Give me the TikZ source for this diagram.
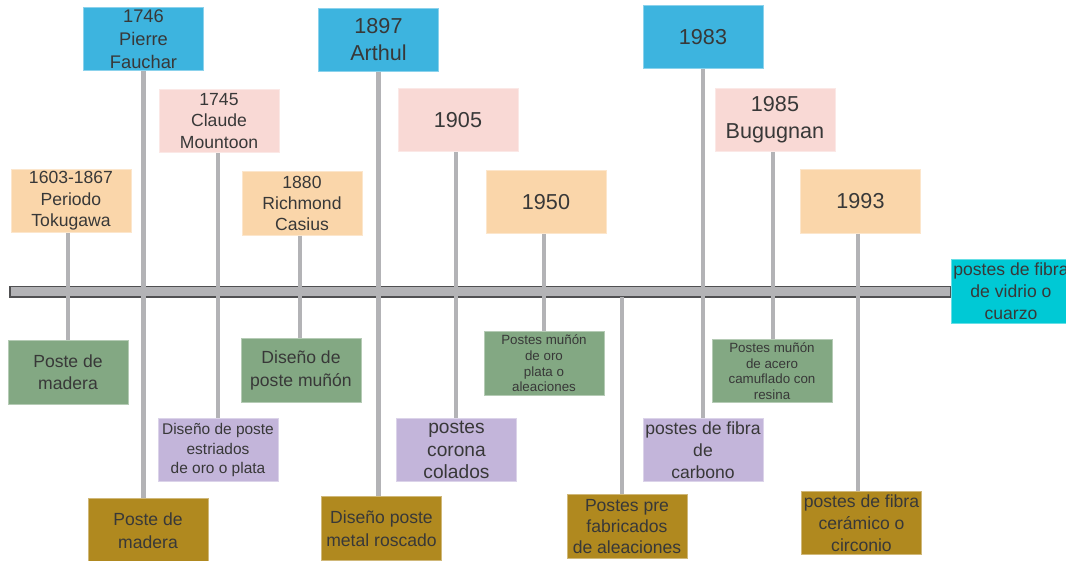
\documentclass[tikz,border=0pt]{standalone}
\usepackage{fontspec}
\setmainfont{Liberation Sans}
\usepackage{xcolor}
\usepackage{tikz}
\usetikzlibrary{positioning}

\definecolor{tlblue}{HTML}{3DB4DF}
\definecolor{tlpink}{HTML}{F9D9D5}
\definecolor{tlorange}{HTML}{FAD6AA}
\definecolor{tlgreen}{HTML}{83A883}
\definecolor{tlpurple}{HTML}{C3B5DA}
\definecolor{tlgold}{HTML}{B0891F}
\definecolor{tlcyan}{HTML}{00C9D5}
\definecolor{tlstem}{HTML}{B3B3B6}
\definecolor{tlrim}{HTML}{505052}
\definecolor{tltext}{HTML}{383838}

\newcommand{\ftop}{\fontsize{10}{12.2}\selectfont}
\newcommand{\fbig}{\fontsize{12.3}{15.3}\selectfont}
\newcommand{\fpost}{\fontsize{10}{12.6}\selectfont}
\newcommand{\fsmall}{\fontsize{7.6}{8.9}\selectfont}

\begin{document}
\begin{tikzpicture}[x=0.02cm, y=-0.02cm,
  box/.style={rectangle, minimum width=2.4cm, minimum height=1.27cm,
    inner sep=1pt, align=center, text=tltext, font=\fpost},
  stem/.style={draw=tlstem, line width=2.4pt}]
  \useasboundingbox (0,0) rectangle (1066,561);
  \clip (0,0) rectangle (1066,561);

  % timeline bar
  \draw[draw=tlrim, fill=tlstem, line width=0.8pt] (10,286.5) rectangle (951,297);
  \node[box, fill=tlcyan, draw=tlcyan!60!white] (vidrio) at (1011,291.5)
    {\fontsize{10}{11.8}\selectfont postes de fibra\\de vidrio o\\cuarzo};

  % years above the bar
  \node[box, fill=tlorange, draw=tlorange!60!white, font=\ftop] (t1603) at (71,201) {1603-1867\\Periodo\\Tokugawa};
  \node[box, fill=tlblue, draw=tlblue!60!white, font=\fontsize{10.4}{13}\selectfont] (t1746) at (143.5,39) {1746\\Pierre\\Fauchar};
  \node[box, fill=tlpink, draw=tlpink!60!white, font=\ftop] (t1745) at (219,121) {1745\\Claude\\Mountoon};
  \node[box, fill=tlorange, draw=tlorange!60!white, font=\ftop] (t1880) at (302,203.5) {1880\\Richmond\\Casius};
  \node[box, fill=tlblue, draw=tlblue!60!white, font=\fbig] (t1897) at (378.5,40) {1897\\Arthul};
  \node[box, fill=tlpink, draw=tlpink!60!white, font=\fbig] (t1905) at (458,120) {1905};
  \node[box, fill=tlorange, draw=tlorange!60!white, font=\fbig] (t1950) at (546,202) {1950};
  \node[box, fill=tlblue, draw=tlblue!60!white, font=\fbig] (t1983) at (703,37) {1983};
  \node[box, fill=tlpink, draw=tlpink!60!white, font=\fbig] (t1985) at (775,120) {1985\\Bugugnan};
  \node[box, fill=tlorange, draw=tlorange!60!white, font=\fbig] (t1993) at (860.5,201.5) {1993};

  % posts below the bar
  \node[box, fill=tlgreen, draw=tlgreen!60!white] (b1603) at (68,372.5) {Poste de\\madera};
  \node[box, fill=tlgold, draw=tlgold!60!white, font=\fontsize{10}{12.9}\selectfont] (b1746) at (148,530.5) {Poste de\\madera};
  \node[box, fill=tlpurple, draw=tlpurple!60!white, font=\fontsize{8.8}{11.3}\selectfont] (b1745) at (218,450) {Diseño de poste\\estriados\\de oro o plata};
  \node[box, fill=tlgreen, draw=tlgreen!60!white] (b1880) at (301,370.5) {Diseño de\\poste muñón};
  \node[box, fill=tlgold, draw=tlgold!60!white, font=\fontsize{10}{12.9}\selectfont] (b1897) at (381.5,528.5) {Diseño poste\\metal roscado};
  \node[box, fill=tlpurple, draw=tlpurple!60!white, font=\fontsize{10.9}{13}\selectfont] (b1905) at (456.5,450) {postes\\corona\\colados};
  \node[box, fill=tlgreen, draw=tlgreen!60!white, font=\fsmall] (b1950) at (544,363.5) {Postes muñón\\de oro\\plata o\\aleaciones};
  \node[box, fill=tlgold, draw=tlgold!60!white, font=\fontsize{10}{12}\selectfont] (bpre) at (627,526.5) {Postes pre\\fabricados\\de aleaciones};
  \node[box, fill=tlpurple, draw=tlpurple!60!white] (b1983) at (703,450) {postes de fibra\\de\\carbono};
  \node[box, fill=tlgreen, draw=tlgreen!60!white, font=\fsmall] (b1985) at (772,371) {Postes muñón\\de acero\\camuflado con\\resina};
  \node[box, fill=tlgold, draw=tlgold!60!white] (b1993) at (861.5,523) {postes de fibra\\cerámico o\\circonio};

  % stems
  \coordinate (prebar) at (622,297);
  \draw[stem] ([xshift=-0.06cm]t1603.south) -- ([xshift=-0.06cm]t1603.south |- b1603.north);
  \draw[stem] (t1746.south) -- (t1746.south |- b1746.north);
  \draw[stem] ([xshift=-0.02cm]t1745.south) -- ([xshift=-0.02cm]t1745.south |- b1745.north);
  \draw[stem] ([xshift=-0.04cm]t1880.south) -- ([xshift=-0.04cm]t1880.south |- b1880.north);
  \draw[stem] (t1897.south) -- (t1897.south |- b1897.north);
  \draw[stem] ([xshift=-0.04cm]t1905.south) -- ([xshift=-0.04cm]t1905.south |- b1905.north);
  \draw[stem] ([xshift=-0.04cm]t1950.south) -- ([xshift=-0.04cm]t1950.south |- b1950.north);
  \draw[stem] (t1983.south) -- (t1983.south |- b1983.north);
  \draw[stem] ([xshift=-0.04cm]t1985.south) -- ([xshift=-0.04cm]t1985.south |- b1985.north);
  \draw[stem] ([xshift=-0.05cm]t1993.south) -- ([xshift=-0.05cm]t1993.south |- b1993.north);
  \draw[stem] (prebar) -- (prebar |- bpre.north);
\end{tikzpicture}
\end{document}
